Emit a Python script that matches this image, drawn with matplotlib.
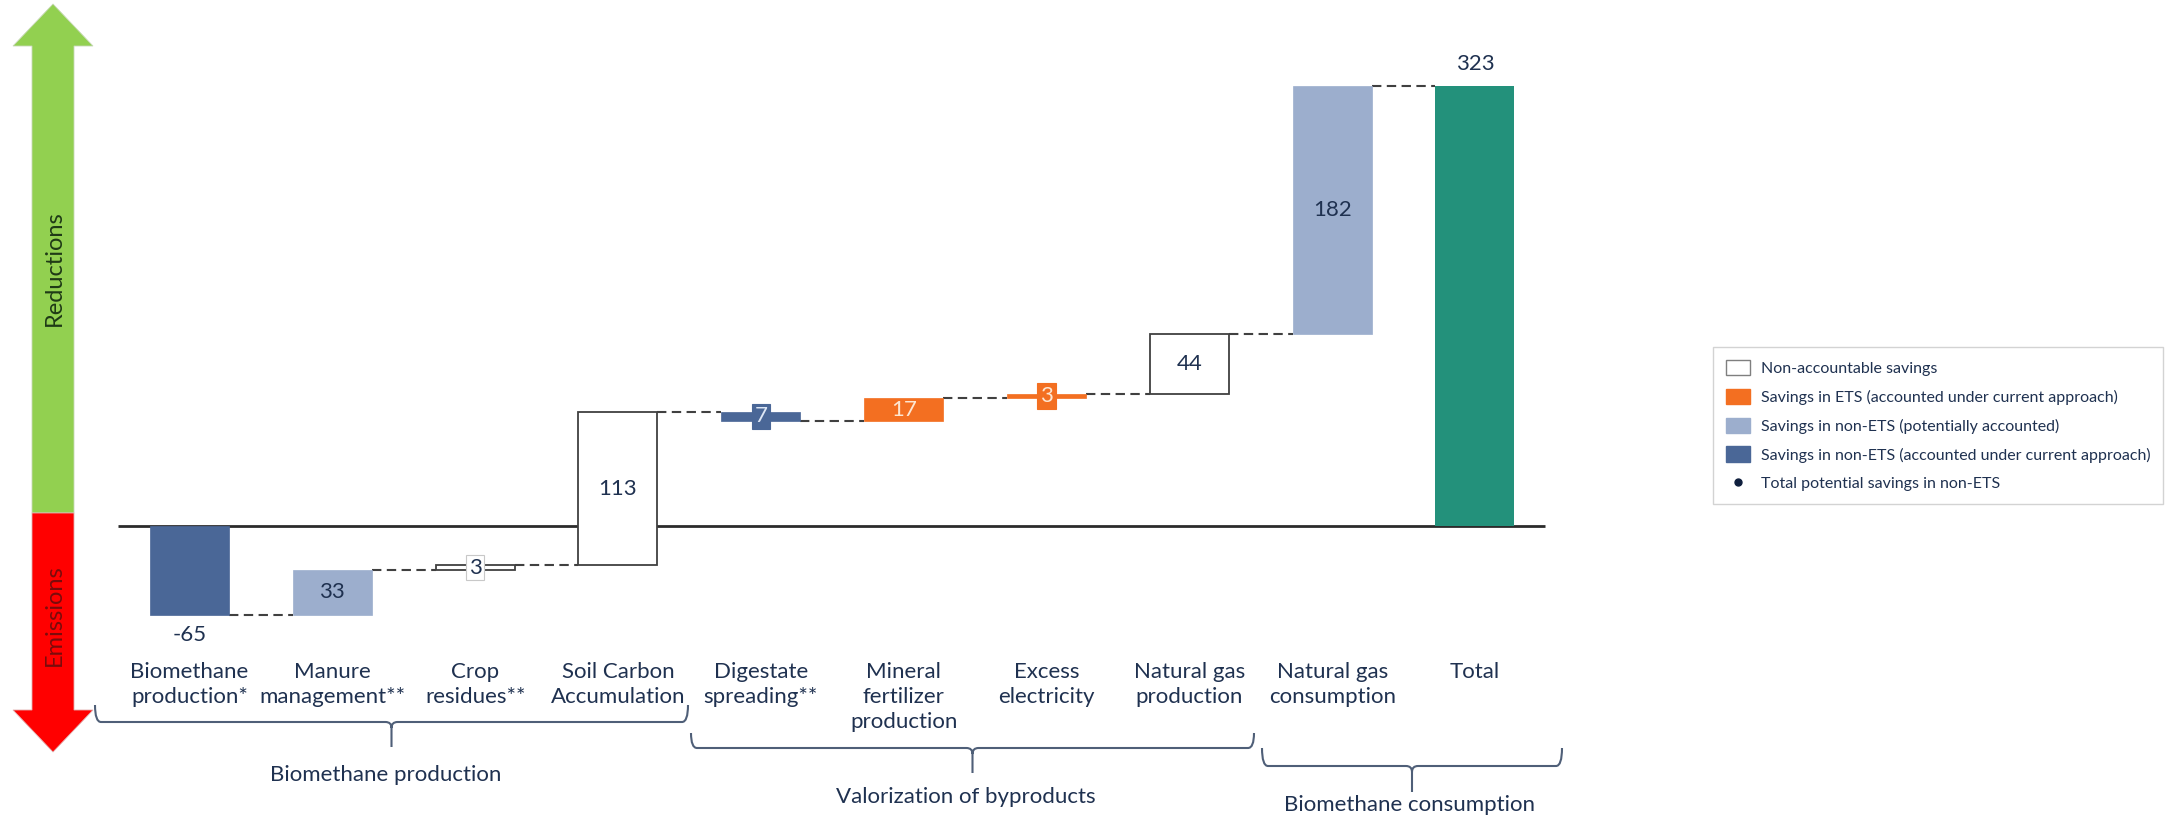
import matplotlib
matplotlib.use('Agg')
import matplotlib.pyplot as plt
from matplotlib.patches import Patch, Polygon, PathPatch
from matplotlib.lines import Line2D
from matplotlib.path import Path
import numpy as np

plt.rcParams['font.family'] = ['Lato', 'DejaVu Sans']

# Data
categories = ['Biomethane\nproduction*', 'Manure\nmanagement**', 'Crop\nresidues**',
              'Soil Carbon\nAccumulation', 'Digestate\nspreading**',
              'Mineral\nfertilizer\nproduction', 'Excess\nelectricity',
              'Natural gas\nproduction', 'Natural gas\nconsumption', 'Total']
steps = [-65, 33, 3, 113, -7, 17, 3, 44, 182]
step_labels = ['-65', '33', '3', '113', '7', '17', '3', '44', '182']
step_kinds = ['nonets_current', 'nonets_potential', 'non_accountable', 'non_accountable',
              'nonets_current', 'ets', 'ets', 'non_accountable', 'nonets_potential']
total_value = 323
group_names = ['Biomethane production', 'Valorization of byproducts', 'Biomethane consumption']
legend_labels = ['Non-accountable savings',
                 'Savings in ETS (accounted under current approach)',
                 'Savings in non-ETS (potentially accounted)',
                 'Savings in non-ETS (accounted under current approach)',
                 'Total potential savings in non-ETS']

# colours
navy = '#1f3150'
edge_grey = '#404040'
styles = {
    'non_accountable':  {'face': 'white',   'edge': edge_grey, 'lw': 1.3, 'text': navy},
    'ets':              {'face': '#f36f21', 'edge': '#f36f21', 'lw': 0.5, 'text': '#fde6d2'},
    'nonets_potential': {'face': '#9caecd', 'edge': '#9caecd', 'lw': 0.5, 'text': navy},
    'nonets_current':   {'face': '#4a6797', 'edge': '#4a6797', 'lw': 0.5, 'text': '#dce6f5'},
}
total_colour = '#23917b'

# figure / layout
W, H = 2165, 819
fig = plt.figure(figsize=(W / 100, H / 100), dpi=100)
ax = fig.add_axes([0, 0, 1, 1])
x0_px, dx_px = 189.5, 142.83     # first bar centre and bar spacing in pixels
base_px, k = 526, 1.362          # baseline (pixels from top) and pixels per unit
ax.set_xlim(-x0_px / dx_px, (W - x0_px) / dx_px)
ax.set_ylim(-(H - base_px) / k, base_px / k)
ax.axis('off')

deco = fig.add_axes([0, 0, 1, 1])
deco.set_xlim(0, W)
deco.set_ylim(H, 0)
deco.axis('off')

def yfrac(py):
    return 1 - py / H

# waterfall geometry
x = np.arange(len(categories))
ends = np.cumsum(steps)
starts = ends - np.array(steps)
bottoms = np.minimum(starts, ends)
heights = np.abs(steps)
bw = 0.553

# baseline
ax.plot([-0.50, 9.49], [0, 0], color='#2b2b2b', lw=2.0, zorder=1, solid_capstyle='butt')

for i in range(len(steps)):
    st = styles[step_kinds[i]]
    ax.bar(x[i], heights[i], bottom=bottoms[i], width=bw, color=st['face'],
           edgecolor=st['edge'], linewidth=st['lw'], zorder=2)
ax.bar(x[-1], total_value, width=bw, color=total_colour, zorder=2)

# dashed connectors
for i in range(len(steps)):
    ax.plot([x[i] + bw / 2, x[i + 1] - bw / 2], [ends[i], ends[i]], color=edge_grey,
            lw=1.5, linestyle=(0, (4.5, 2.6)), zorder=1.5)

# value labels
for i in range(len(steps)):
    st = styles[step_kinds[i]]
    if i == 0:
        ax.text(x[i], ends[i] - 15, step_labels[i], ha='center', va='center',
                fontsize=16, color=navy, zorder=4)
        continue
    mid = (starts[i] + ends[i]) / 2
    bbox = None
    if heights[i] < 10:
        if st['face'] == 'white':
            bbox = dict(boxstyle='square,pad=0.12', fc='white', ec='#c8c8c8', lw=0.8)
        else:
            bbox = dict(boxstyle='square,pad=0.12', fc=st['face'], ec=st['face'], lw=0.8)
    ax.text(x[i], mid, step_labels[i], ha='center', va='center', fontsize=16,
            color=st['text'], bbox=bbox, zorder=4)
ax.text(x[-1], total_value + 16, str(total_value), ha='center', va='center',
        fontsize=16, color=navy, zorder=4)

# category labels
for i in range(len(categories)):
    ax.text(x[i], yfrac(662), categories[i], transform=ax.get_xaxis_transform(),
            ha='center', va='top', fontsize=16, color=navy, linespacing=1.3)

# braces under the categories
def brace(x_left, x_right, y_top, y_mid, y_tip, r=6):
    xc = (x_left + x_right) / 2
    verts = [(x_left, y_top), (x_left, y_mid), (x_left + r, y_mid),
             (xc - r, y_mid), (xc, y_mid), (xc, y_mid + r), (xc, y_tip),
             (x_right, y_top), (x_right, y_mid), (x_right - r, y_mid),
             (xc + r, y_mid), (xc, y_mid), (xc, y_mid + r)]
    codes = [Path.MOVETO, Path.CURVE3, Path.CURVE3, Path.LINETO, Path.CURVE3, Path.CURVE3,
             Path.LINETO, Path.MOVETO, Path.CURVE3, Path.CURVE3, Path.LINETO,
             Path.CURVE3, Path.CURVE3]
    deco.add_patch(PathPatch(Path(verts, codes), fc='none', ec='#4f5f78', lw=1.5))

brace(95, 688, 705, 722, 747)
brace(691, 1254, 733, 748, 773)
brace(1262, 1562, 748, 766, 792)
deco.text(386, 775, group_names[0], ha='center', va='center', fontsize=16, color=navy)
deco.text(966, 797, group_names[1], ha='center', va='center', fontsize=16, color=navy)
deco.text(1410, 805, group_names[2], ha='center', va='center', fontsize=16, color=navy)

# reductions / emissions arrows on the left
green = [(53, 4), (93, 46), (74, 46), (74, 513), (32, 513), (32, 46), (13, 46)]
red = [(32, 513), (74, 513), (74, 710), (93, 710), (53, 752), (13, 710), (32, 710)]
deco.add_patch(Polygon(green, closed=True, fc='#92d050', ec='#c8d8b8', lw=0.6))
deco.add_patch(Polygon(red, closed=True, fc='#ff0000', ec='#e0b0b0', lw=0.6))
deco.text(54, 268, 'Reductions', rotation=90, ha='center', va='center',
          fontsize=17, color='#1f3a16')
deco.text(54, 615, 'Emissions', rotation=90, ha='center', va='center',
          fontsize=17, color='#7a0c0c')

# legend
handles = [Patch(fc='white', ec='#7f7f7f', lw=1.0),
           Patch(fc=styles['ets']['face'], ec=styles['ets']['face']),
           Patch(fc=styles['nonets_potential']['face'], ec=styles['nonets_potential']['face']),
           Patch(fc=styles['nonets_current']['face'], ec=styles['nonets_current']['face']),
           Line2D([], [], linestyle='none', marker='o', markersize=5,
                  color='#0f1f3d')]
leg = fig.legend(handles, legend_labels, loc='upper left',
                 bbox_to_anchor=(1713 / W, 1 - 347 / H), borderaxespad=0,
                 fontsize=11.5, labelcolor=navy, frameon=True, fancybox=False,
                 edgecolor='#c8c8c8', handlelength=1.5, handleheight=1.1,
                 labelspacing=0.8, borderpad=0.8, handletextpad=0.7)
leg.get_frame().set_linewidth(1.0)

fig.savefig('out.png', dpi=100)
